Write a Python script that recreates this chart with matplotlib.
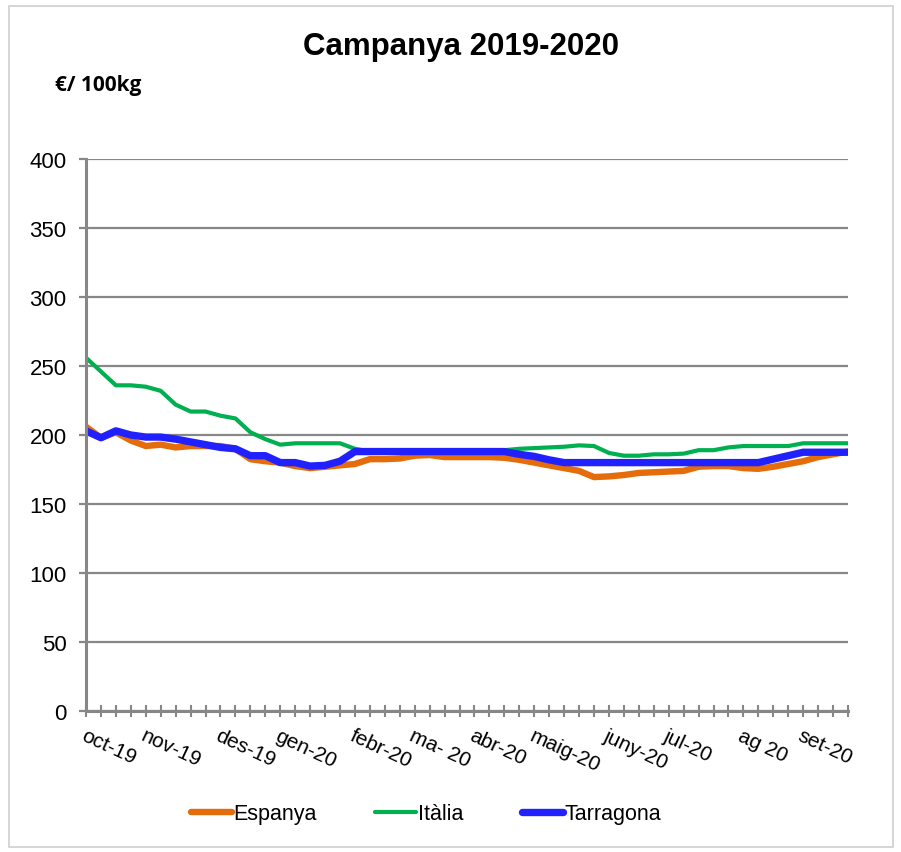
import numpy as np
import matplotlib
matplotlib.use('Agg')
from matplotlib import pyplot as plt
from matplotlib.patches import Rectangle

# weekly prices, €/100kg (52 weeks, oct-19 .. set-20)
espanya = [206, 198, 202, 196, 192, 193, 191, 192, 192, 192,
           190, 182.5, 181, 180, 177.5, 176, 177, 178, 179, 182.5,
           182.5, 183, 185, 185.5, 184, 184, 184, 184, 183.5, 182,
           180, 178, 176, 174, 169.5, 170, 171, 172.5, 173, 173.5,
           174, 177, 177.5, 177.5, 176, 175.5, 177, 179, 181, 184,
           186, 188]
italia = [256, 246, 236, 236, 235, 232, 222, 217, 217, 214,
          212, 202, 197, 193, 194, 194, 194, 194, 190, 188,
          188, 188, 188, 188, 188, 188, 188, 188.5, 189, 190,
          190.5, 191, 191.5, 192.5, 192, 187, 185, 185, 186, 186,
          186.5, 189, 189, 191, 192, 192, 192, 192, 194, 194,
          194, 194]
tarragona = [203, 198, 203, 200, 198.5, 198.5, 197, 195, 193, 191,
             190, 185, 185, 180, 180, 177.5, 178, 181, 188, 188,
             188, 188, 188, 188, 188, 188, 188, 188, 188, 186,
             184.5, 182, 180, 180, 180, 180, 180, 180, 180, 180,
             180, 180, 180, 180, 180, 180, 182.5, 185, 187.5, 187.5,
             187.5, 187.5]

month_pos = [0, 4, 9, 13, 18, 22, 26, 30, 35, 39, 44, 48]
month_labels = ['oct-19', 'nov-19', 'des-19', 'gen-20', 'febr-20', 'ma- 20',
                'abr-20', 'maig-20', 'juny-20', 'jul-20', 'ag 20', 'set-20']

plt.rcParams['font.family'] = ['Liberation Sans', 'DejaVu Sans']
grey = '#878787'

fig = plt.figure(figsize=(9.01, 8.53), dpi=100)
fig.patches.append(Rectangle((9/901, 1-848/853), 884/901, 841/853, transform=fig.transFigure,
                             fill=False, edgecolor='#d0d0d0', linewidth=1.2))
ax = fig.add_axes([86/901, 1-712/853, 762/901, 552/853])

x = np.arange(len(espanya))
ax.plot(x, espanya, color='#E46C0A', lw=4.6, solid_joinstyle='round', solid_capstyle='round', label='Espanya')
ax.plot(x, italia, color='#00B050', lw=3.0, solid_joinstyle='round', solid_capstyle='round', label='Itàlia')
ax.plot(x, tarragona, color='#2121FF', lw=5.3, solid_joinstyle='round', solid_capstyle='round', label='Tarragona')

ax.set_xlim(0, len(x) - 1)
ax.set_ylim(0, 400)
ax.set_yticks(range(0, 401, 50))
ax.yaxis.grid(True, color=grey, lw=1.6)
ax.set_axisbelow(True)
for s in ['top', 'right']:
    ax.spines[s].set_visible(False)
for s in ['left', 'bottom']:
    ax.spines[s].set_color(grey)
    ax.spines[s].set_linewidth(2.2)
ax.tick_params(axis='y', colors=grey, length=5, width=1.6, pad=9, labelsize=16, labelcolor='black')

ax.set_xticks(x, minor=True)
ax.set_xticks(month_pos)
ax.set_xticklabels(month_labels, rotation=-25, ha='left', rotation_mode='anchor', fontsize=15)
ax.tick_params(axis='x', which='both', direction='inout', length=8.6, width=1.5, colors=grey, labelcolor='black')
ax.tick_params(axis='x', which='major', pad=6)

fig.text(461/901, 1-47/853, 'Campanya 2019-2020', ha='center', va='center', fontsize=22.5, fontweight='bold')
fig.text(55/901, 1-86/853, '€/ 100kg', ha='left', va='center', fontsize=15, fontweight='bold',
         family=['Open Sans', 'DejaVu Sans'])

fig.legend(loc='center', bbox_to_anchor=(426/901, 1-815/853), ncol=3, frameon=False, fontsize=15.5,
           handlelength=1.9, handletextpad=0.1, columnspacing=2.7)

plt.savefig('out.png', dpi=100)
